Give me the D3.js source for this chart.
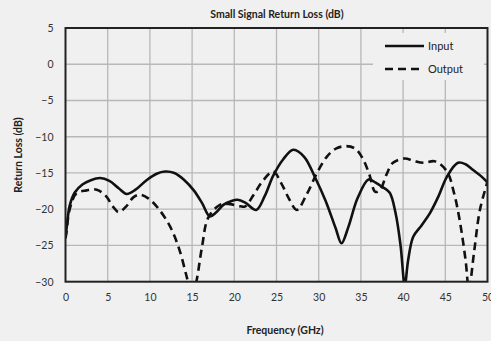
<!DOCTYPE html>
<html><head><meta charset="utf-8">
<script src="https://cdn.jsdelivr.net/npm/d3@7"></script>
<style>body{margin:0;background:#f0f0f0;}svg{display:block;font-family:Lato,"Open Sans",sans-serif;}</style>
</head><body>
<svg id="c" width="491" height="341"></svg>
<script>
const xTicks = [0,5,10,15,20,25,30,35,40,45,50];
const yTicks = [5,0,-5,-10,-15,-20,-25,-30];
const seriesNames = ["Input","Output"];
const inputFreq = [0,0.15,0.5,1.1,2,3,4.1,5.2,6.3,7.25,8.3,9.6,10.8,11.8,12.9,14,15.2,16.2,17.1,17.8,18.7,19.6,20.4,21.3,22.6,23.6,24.6,25.8,27,28.3,29.6,30.8,32,32.7,33.5,34.6,35.9,36.7,37.5,38.4,39.1,39.7,40.2,40.6,41.2,42.2,43.2,44.2,45.2,46.5,47.4,48.3,49.2,50];
const inputRL = [-24,-22.4,-19.5,-17.7,-16.6,-16,-15.7,-16.1,-17.1,-17.9,-17.3,-16,-15.1,-14.8,-15,-15.9,-17.4,-19.2,-21,-20.5,-19.4,-18.9,-18.7,-19.1,-20.1,-18.2,-15.4,-13.1,-11.8,-12.8,-15.7,-18.8,-22.6,-24.7,-22.5,-18.5,-15.9,-16.3,-16.9,-17.7,-20.5,-25,-30.5,-27,-23.8,-22.2,-20.5,-18.2,-15.5,-13.6,-13.8,-14.6,-15.4,-16.3];
const outputFreq = [0,0.1,0.5,1.3,2.5,3.7,4.8,5.6,6.3,7.2,8,8.8,9.8,11,12.4,13.5,14.4,15,15.5,16.2,16.9,18.3,19.5,20.7,21.3,22.3,23.3,24.6,25.6,26.5,27.4,28.6,29.8,31,32.1,33.3,34.4,35.3,36,36.7,37.3,38,38.8,40.2,41.2,42.4,43.8,45.2,46,46.7,47.4,47.8,48.4,49.1,50];
const outputRL = [-24,-23.3,-20,-17.8,-17.4,-17.3,-18.2,-19.6,-20.4,-19.6,-18.4,-18,-18.5,-19.9,-22.4,-25.6,-29.5,-32,-30,-25,-21.2,-19.4,-19.3,-19.6,-19.6,-18,-16.2,-14.8,-16.5,-18.6,-20.1,-17.9,-15,-12.7,-11.6,-11.3,-11.7,-13.2,-15.2,-17.6,-17.3,-15.3,-13.6,-13,-13.3,-13.6,-13.4,-14.8,-17.6,-21.5,-27,-31,-26,-20.1,-16.2];

const svg = d3.select("#c");
const L=65.5, R=487.5, T=28, B=281.7;
const x = d3.scaleLinear().domain([0,50]).range([L,R]);
const y = d3.scaleLinear().domain([-30,5]).range([B,T]);

svg.append("rect").attr("width",491).attr("height",341).attr("fill","#f0f0f0");

// grid
const g = svg.append("g");
g.selectAll(".vx").data(xTicks.slice(1,-1)).join("line")
  .attr("x1",d=>x(d)).attr("x2",d=>x(d)).attr("y1",T).attr("y2",B)
  .attr("stroke","#b8b8b8").attr("stroke-width",1.3);
g.selectAll(".hy").data(yTicks.slice(1,-1)).join("line")
  .attr("y1",d=>y(d)).attr("y2",d=>y(d)).attr("x1",L).attr("x2",R)
  .attr("stroke","#b8b8b8").attr("stroke-width",1.3);

// axes labels
const xAxis = d3.axisBottom(x).tickValues(xTicks).tickSize(0).tickPadding(12);
const xa = svg.append("g").attr("transform",`translate(0,${B})`).call(xAxis);
xa.select(".domain").remove();
xa.selectAll("text").attr("font-size",10.5).attr("fill","#333").attr("font-family","Lato, sans-serif");
const yAxis = d3.axisLeft(y).tickValues(yTicks).tickSize(0).tickPadding(12);
const ya = svg.append("g").attr("transform",`translate(${L},0)`).call(yAxis);
ya.select(".domain").remove();
ya.selectAll("text").attr("font-size",10.5).attr("fill","#333").attr("font-family","Lato, sans-serif");

// lines
svg.append("clipPath").attr("id","clip").append("rect").attr("x",L).attr("y",T).attr("width",R-L).attr("height",B-T);
const line = d3.line().x(d=>x(d[0])).y(d=>y(d[1])).curve(d3.curveCatmullRom.alpha(0.5));
const inputData = inputFreq.map((f,i)=>[f,inputRL[i]]);
const outputData = outputFreq.map((f,i)=>[f,outputRL[i]]);
const lg = svg.append("g").attr("clip-path","url(#clip)");
lg.append("path").attr("d",line(outputData)).attr("fill","none").attr("stroke","#111").attr("stroke-width",2.6).attr("stroke-dasharray","8,5");
lg.append("path").attr("d",line(inputData)).attr("fill","none").attr("stroke","#111").attr("stroke-width",2.6);

// frame
svg.append("rect").attr("x",L).attr("y",T).attr("width",R-L).attr("height",B-T)
  .attr("fill","none").attr("stroke","#222").attr("stroke-width",2);

// legend
const leg = svg.append("g");
leg.append("rect").attr("x",373).attr("y",33).attr("width",111).attr("height",47).attr("fill","#f0f0f0");
const styles = ["none","8,5"];
seriesNames.forEach((n,i)=>{
  const yy = 46 + i*23;
  leg.append("line").attr("x1",385).attr("x2",424).attr("y1",yy).attr("y2",yy)
    .attr("stroke","#111").attr("stroke-width",2.6).attr("stroke-dasharray",styles[i]);
  leg.append("text").attr("x",428).attr("y",yy+4).attr("font-size",11).attr("fill","#222").text(n);
});

// titles
svg.append("text").attr("x",277).attr("y",18).attr("text-anchor","middle").attr("font-size",10.5).attr("font-weight","bold").attr("fill","#222").text("Small Signal Return Loss (dB)");
svg.append("text").attr("x",285).attr("y",334).attr("text-anchor","middle").attr("font-size",10.5).attr("font-weight","bold").attr("fill","#222").text("Frequency (GHz)");
svg.append("text").attr("transform","translate(22,155) rotate(-90)").attr("text-anchor","middle").attr("font-size",10.5).attr("font-weight","bold").attr("fill","#222").text("Return Loss (dB)");
</script>
</body></html>
